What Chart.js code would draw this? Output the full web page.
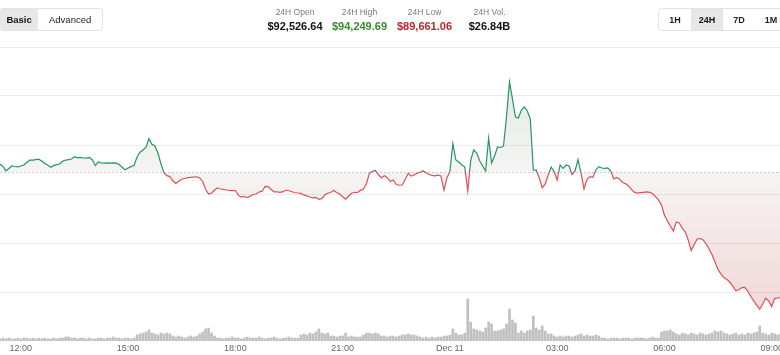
<!DOCTYPE html>
<html>
<head>
<meta charset="utf-8">
<script src="https://cdn.jsdelivr.net/npm/chart.js@4.4.1/dist/chart.umd.min.js"></script>
<style>
  html, body { margin: 0; padding: 0; background: #fff; }
  body { width: 780px; height: 355px; overflow: hidden; position: relative; font-family: "Liberation Sans", Arial, Helvetica, sans-serif; }
  #chart { position: absolute; left: 0; top: 0; }
  .seg { position: absolute; top: 8px; height: 23px; border: 1px solid #e3e3e3; border-radius: 4px; display: flex; box-sizing: border-box; overflow: hidden; background: #fff; z-index: 2; }
  .seg div { display: flex; align-items: center; justify-content: center; font-size: 9.5px; color: #222; }
  .seg .on { background: #e7e7e7; font-weight: bold; color: #111; }
  .stat { position: absolute; width: 90px; text-align: center; z-index: 2; }
  .stat .lab { position: absolute; top: 7px; width: 100%; font-size: 8.5px; color: #7a7a7a; }
  .stat .val { position: absolute; top: 20px; width: 100%; font-size: 11px; font-weight: bold; color: #141414; }
</style>
</head>
<body>
<div class="seg" style="left:-1px;width:104px;">
  <div class="on" style="width:39px;">Basic</div>
  <div style="width:65px;">Advanced</div>
</div>
<div id="stats"></div>
<div class="seg" style="left:658px;width:130px;" id="ranges"></div>
<canvas id="chart" width="780" height="355"></canvas>
<script>
// header text
const STAT_LABELS = ['24H Open', '24H High', '24H Low', '24H Vol.'];
const STAT_VALUES = ['$92,526.64', '$94,249.69', '$89,661.06', '$26.84B'];
const STAT_COLORS = ['#141414', '#3a8a2e', '#c2222c', '#141414'];
const RANGES = ['1H', '24H', '7D', '1M'];

// price every 5 minutes, from Dec 10 11:25 (minutes since Dec 10 00:00)
const OPEN_PRICE = 92526.64;
const START_MIN = 685;
const STEP_MIN = 5;
const PRICES = [
  92674, 92628, 92549, 92591, 92637, 92628, 92622, 92637, 92656, 92701,
  92747, 92745, 92753, 92762, 92729, 92683, 92656, 92613, 92643, 92661,
  92674, 92724, 92744, 92753, 92766, 92810, 92788, 92795, 92784, 92781,
  92795, 92747, 92646, 92714, 92692, 92690, 92694, 92691, 92693, 92689,
  92665, 92613, 92566, 92600, 92626, 92648, 92803, 92889, 92931, 92981,
  93139, 93036, 93005, 92876, 92683, 92516, 92459, 92443, 92365, 92316,
  92356, 92393, 92408, 92422, 92428, 92433, 92439, 92417, 92353, 92209,
  92123, 92136, 92196, 92233, 92215, 92206, 92196, 92189, 92185, 92187,
  92101, 92064, 92079, 92055, 92083, 92114, 92127, 92160, 92174, 92261,
  92258, 92206, 92163, 92160, 92154, 92165, 92191, 92182, 92163, 92145,
  92141, 92134, 92101, 92090, 92068, 92053, 92062, 92026, 92038, 92105,
  92136, 92150, 92187, 92152, 92121, 92071, 92026, 92081, 92136, 92154,
  92150, 92189, 92215, 92316, 92503, 92540, 92555, 92476, 92417, 92459,
  92422, 92351, 92380, 92297, 92283, 92288, 92389, 92499, 92450, 92472,
  92505, 92523, 92545, 92514, 92481, 92466, 92455, 92468, 92454, 92196,
  92417, 92533, 93050, 92747, 92711, 92656, 92623, 92178, 92747, 92931,
  92876, 92733, 92637, 92545, 93151, 92692, 92821, 92986, 92977, 93005,
  93537, 94180, 93868, 93537, 93519, 93666, 93721, 93647, 93500, 92563,
  92560, 92417, 92233, 92307, 92472, 92619, 92533, 92380, 92656, 92595,
  92655, 92637, 92481, 92545, 92755, 92509, 92215, 92389, 92441, 92430,
  92564, 92624, 92600, 92595, 92604, 92545, 92398, 92426, 92395, 92334,
  92310, 92270, 92202, 92152, 92139, 92148, 92154, 92160, 92151, 92132,
  92073, 92013, 91921, 91737, 91627, 91535, 91443, 91609, 91590, 91489,
  91425, 91278, 91085, 91195, 91296, 91304, 91278, 91205, 91113, 91008,
  90874, 90733, 90650, 90584, 90554, 90497, 90426, 90345, 90365, 90404,
  90409, 90336, 90240, 90158, 90077, 90007, 90103, 90207, 90158, 90055,
  90202, 90213, 90222
];
// volume (BTC) per 5-minute bar
const VOLUMES = [
  14, 20, 14, 20, 14, 14, 20, 14, 20, 20,
  14, 20, 14, 20, 14, 20, 14, 14, 20, 14,
  20, 20, 27, 27, 20, 20, 14, 20, 20, 14,
  20, 14, 14, 20, 20, 14, 20, 20, 27, 20,
  20, 14, 20, 20, 14, 20, 41, 48, 54, 61,
  75, 54, 48, 41, 54, 48, 54, 48, 34, 27,
  34, 27, 20, 27, 34, 27, 34, 48, 61, 82,
  88, 54, 34, 20, 20, 14, 20, 20, 27, 20,
  20, 14, 20, 27, 20, 20, 20, 27, 20, 14,
  20, 20, 27, 20, 14, 20, 20, 27, 20, 20,
  20, 41, 48, 41, 54, 48, 61, 82, 54, 48,
  54, 34, 34, 27, 34, 34, 54, 27, 34, 27,
  27, 27, 41, 54, 54, 48, 54, 48, 34, 34,
  27, 34, 34, 27, 34, 41, 41, 48, 41, 41,
  34, 27, 20, 27, 20, 27, 20, 27, 27, 34,
  34, 41, 82, 54, 41, 41, 54, 286, 129, 82,
  75, 68, 61, 88, 129, 116, 68, 68, 75, 82,
  116, 218, 143, 122, 54, 68, 54, 68, 75, 170,
  88, 75, 102, 68, 48, 48, 34, 27, 34, 27,
  34, 34, 27, 34, 41, 48, 34, 41, 34, 34,
  41, 34, 20, 20, 14, 20, 20, 20, 14, 20,
  20, 20, 14, 20, 20, 20, 20, 14, 20, 27,
  20, 20, 61, 68, 68, 75, 61, 48, 41, 54,
  48, 41, 54, 48, 41, 54, 48, 41, 48, 54,
  68, 61, 68, 54, 48, 41, 48, 54, 41, 48,
  41, 54, 48, 54, 61, 102, 54, 48, 41, 54,
  48, 41, 48
];
const TICK_TIMES = [720, 900, 1080, 1260, 1440, 1620, 1800, 1980];
const TICK_LABELS = ['12:00', '15:00', '18:00', '21:00', 'Dec 11', '03:00', '06:00', '09:00'];

// axis setup
const X_MIN = 685, X_MAX = 1994;
const PRICE_MIN = 89422.6, PRICE_STEP = 900;
const GREEN = 'rgb(36,150,98)';
const RED = 'rgb(226,78,88)';

// header
const stats = document.getElementById('stats');
const centers = [295, 359.5, 424.5, 489.5];
STAT_LABELS.forEach((l, i) => {
  const d = document.createElement('div');
  d.className = 'stat';
  d.style.left = (centers[i] - 45) + 'px';
  d.innerHTML = '<div class="lab">' + l + '</div><div class="val" style="color:' + STAT_COLORS[i] + '">' + STAT_VALUES[i] + '</div>';
  stats.appendChild(d);
});
const ranges = document.getElementById('ranges');
RANGES.forEach(r => {
  const d = document.createElement('div');
  d.style.width = '32px';
  d.style.fontWeight = 'bold';
  d.style.fontSize = '9px';
  if (r === '24H') d.className = 'on';
  d.textContent = r;
  ranges.appendChild(d);
});

const times = PRICES.map((_, i) => START_MIN + i * STEP_MIN);
const pricePts = PRICES.map((p, i) => ({x: times[i], y: p}));
const volPts = VOLUMES.map((v, i) => ({x: times[i], y: v}));

function fillFor(side) {
  return function (c) {
    const chart = c.chart;
    const a = chart.chartArea;
    if (!a) return 'transparent';
    const y0 = chart.scales.y.getPixelForValue(OPEN_PRICE);
    let g;
    if (side === 'up') {
      g = chart.ctx.createLinearGradient(0, a.top, 0, y0);
      g.addColorStop(0, 'rgba(36,150,98,0.16)');
      g.addColorStop(1, 'rgba(36,150,98,0.04)');
    } else {
      g = chart.ctx.createLinearGradient(0, y0, 0, a.bottom);
      g.addColorStop(0, 'rgba(226,78,88,0.04)');
      g.addColorStop(1, 'rgba(226,78,88,0.24)');
    }
    return g;
  };
}

// clip green above the open line and red below it
const splitPlugin = {
  id: 'split',
  beforeDatasetsDraw(chart) {
    const a = chart.chartArea, ctx = chart.ctx;
    const y0 = Math.round(chart.scales.y.getPixelForValue(OPEN_PRICE)) + 0.5;
    ctx.save();
    ctx.strokeStyle = '#cfcfcf';
    ctx.lineWidth = 1;
    ctx.setLineDash([2, 2]);
    ctx.beginPath();
    ctx.moveTo(a.left, y0);
    ctx.lineTo(a.right, y0);
    ctx.stroke();
    ctx.restore();
  },
  beforeDatasetDraw(chart, args) {
    const ds = chart.data.datasets[args.index];
    if (!ds.side) return;
    const ctx = chart.ctx;
    const y0 = chart.scales.y.getPixelForValue(OPEN_PRICE);
    ctx.save();
    ctx.beginPath();
    if (ds.side === 'up') ctx.rect(0, 0, chart.width, y0);
    else ctx.rect(0, y0, chart.width, chart.height - y0);
    ctx.clip();
  },
  afterDatasetDraw(chart, args) {
    if (chart.data.datasets[args.index].side) chart.ctx.restore();
  }
};

new Chart(document.getElementById('chart').getContext('2d'), {
  type: 'line',
  data: {
    datasets: [
      {type: 'bar', data: volPts, yAxisID: 'v', backgroundColor: 'rgba(150,150,150,0.6)', barThickness: 2, order: 3},
      {data: pricePts, side: 'up', yAxisID: 'y', borderColor: GREEN, backgroundColor: fillFor('up'), fill: {value: OPEN_PRICE}, order: 1},
      {data: pricePts, side: 'down', yAxisID: 'y', borderColor: RED, backgroundColor: fillFor('down'), fill: {value: OPEN_PRICE}, order: 2}
    ]
  },
  options: {
    responsive: false,
    animation: false,
    layout: {padding: {top: 47, bottom: 1, left: 0, right: 0}},
    plugins: {legend: {display: false}, tooltip: {enabled: false}},
    elements: {point: {radius: 0}, line: {borderWidth: 1.2, tension: 0}},
    scales: {
      x: {
        type: 'linear', min: X_MIN, max: X_MAX, offset: false,
        grid: {display: false, drawTicks: false}, border: {display: false},
        ticks: {autoSkip: false, maxRotation: 0, padding: 2, color: '#666', font: {size: 9, family: '"Liberation Sans", Arial, sans-serif'},
          callback: (v, i) => TICK_LABELS[i]},
        afterBuildTicks: s => { s.ticks = TICK_TIMES.map(v => ({value: v})); },
        afterFit: s => { s.paddingLeft = 0; s.paddingRight = 0; s.height = 13; }
      },
      y: {
        min: PRICE_MIN, max: PRICE_MIN + 6 * PRICE_STEP,
        ticks: {display: false},
        grid: {color: c => c.index === 0 ? 'rgba(0,0,0,0)' : '#ececec', drawTicks: false},
        border: {display: false},
        afterBuildTicks: s => { s.ticks = [0, 1, 2, 3, 4, 5, 6].map(k => ({value: PRICE_MIN + k * PRICE_STEP})); },
        afterFit: s => { s.width = 0; }
      },
      v: {display: false, min: 0, max: 2000}
    }
  },
  plugins: [splitPlugin]
});
</script>
</body>
</html>
